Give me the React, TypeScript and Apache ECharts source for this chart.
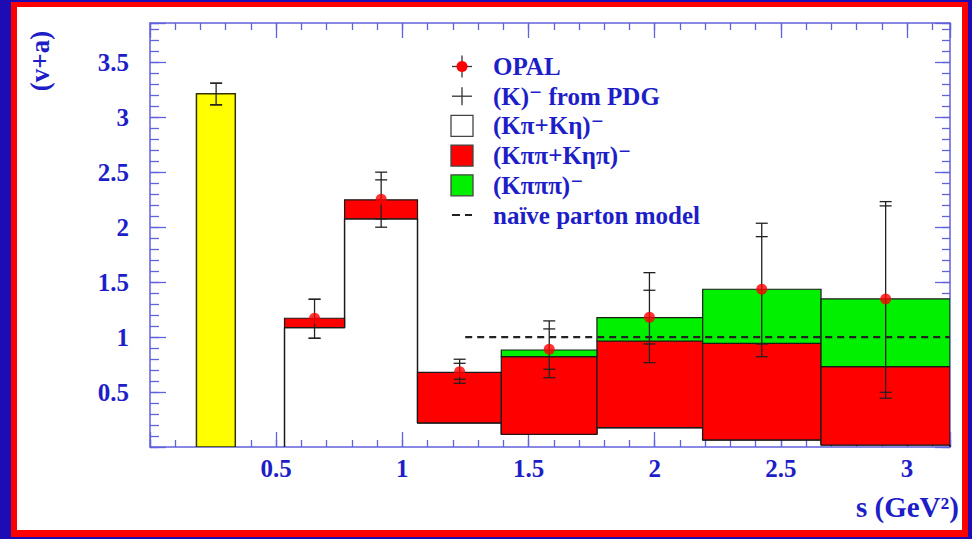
import React, { useEffect, useRef } from 'react';
import * as echarts from 'echarts';

// ---------- data ----------
// histogram bin edges (s in GeV^2)
const BIN_EDGES = [0.533, 0.771, 1.06, 1.392, 1.771, 2.19, 2.659, 3.17];
// stacked contributions per bin
const K_PI_K_ETA = [1.087, 2.077, 0.219, 0.116, 0.176, 0.064, 0.018]; // (Kπ+Kη)⁻  white
const K_PIPI_K_ETAPI = [0.085, 0.173, 0.461, 0.706, 0.789, 0.88, 0.713]; // (Kππ+Kηπ)⁻ red
const K_PIPIPI = [0, 0, 0, 0.061, 0.213, 0.492, 0.617]; // (Kπππ)⁻ green

// OPAL points
const OPAL_S = [0.652, 0.916, 1.227, 1.582, 1.979, 2.424, 2.915];
const OPAL_VALUE = [1.172, 2.256, 0.686, 0.89, 1.181, 1.436, 1.348];
const OPAL_TOT_LO = [0.99, 2.001, 0.58, 0.631, 0.768, 0.822, 0.444];
const OPAL_STAT_LO = [0.99, 2.077, 0.617, 0.708, 0.938, 0.938, 0.498];
const OPAL_STAT_HI = [1.345, 2.432, 0.762, 1.075, 1.427, 1.915, 2.195];
const OPAL_TOT_HI = [1.345, 2.502, 0.799, 1.148, 1.587, 2.037, 2.234];

// (K)⁻ from PDG
const PDG_K_BIN = [0.184, 0.338];
const PDG_K_S = [0.262];
const PDG_K_VALUE = [3.215];
const PDG_K_LO = [3.115];
const PDG_K_HI = [3.312];

// naive parton model
const NAIVE_S = [1.249, 3.17];
const NAIVE_VALUE = [1, 1];

// axes
const X_RANGE = [0, 3.17];
const Y_RANGE = [0, 3.86];
const MAJOR_STEP = 0.5;
const MINOR_STEP = 0.1;

const LEGEND_LABELS = [
  'OPAL',
  '(K)⁻ from PDG',
  '(Kπ+Kη)⁻',
  '(Kππ+Kηπ)⁻',
  '(Kπππ)⁻',
  'naïve parton model',
];

// ---------- styles ----------
const FONT = '"Liberation Serif", "Times New Roman", "DejaVu Serif", serif';
const TEXT_BLUE = '#1e1ec8';
const AXIS_BLUE = '#6262dc';
const INK = '#1a1a1a';

const majorLabel = (v: number) => {
  const k = v / MAJOR_STEP;
  return v > 1e-9 && Math.abs(k - Math.round(k)) < 1e-6 ? String(+v.toFixed(1)) : '';
};

function makeAxis(
  kind: 'x' | 'y',
  position: string,
  interval: number,
  tickLen: number,
  showLabel: boolean,
  showLine: boolean,
) {
  const range = kind === 'x' ? X_RANGE : Y_RANGE;
  return {
    type: 'value',
    position,
    min: range[0],
    max: range[1],
    interval,
    axisLine: { show: showLine, onZero: false, lineStyle: { color: AXIS_BLUE, width: 1.5 } },
    axisTick: { show: true, inside: true, length: tickLen, lineStyle: { color: AXIS_BLUE, width: 1.3 } },
    splitLine: { show: false },
    minorTick: { show: false },
    axisLabel: showLabel
      ? {
          show: true,
          formatter: majorLabel,
          color: TEXT_BLUE,
          fontFamily: FONT,
          fontWeight: 'bold',
          fontSize: 25,
          margin: kind === 'x' ? 9 : 21,
          padding: kind === 'y' ? [6, 0, 0, 0] : 0,
          showMinLabel: true,
          showMaxLabel: true,
        }
      : { show: false },
  };
}

export default function App() {
  const ref = useRef<HTMLDivElement>(null);

  useEffect(() => {
    if (!ref.current) return;
    const chart = echarts.init(ref.current, null, { renderer: 'svg' });

    // white histogram outline
    const outline: number[][] = [[BIN_EDGES[0], 0]];
    K_PI_K_ETA.forEach((h, i) => {
      outline.push([BIN_EDGES[i], h]);
      outline.push([BIN_EDGES[i + 1], h]);
    });
    outline.push([BIN_EDGES[BIN_EDGES.length - 1], 0]);

    const redBoxes: number[][] = [];
    const greenBoxes: number[][] = [];
    K_PI_K_ETA.forEach((w, i) => {
      const r = w + K_PIPI_K_ETAPI[i];
      redBoxes.push([BIN_EDGES[i], BIN_EDGES[i + 1], w, r]);
      if (K_PIPIPI[i] > 0) greenBoxes.push([BIN_EDGES[i], BIN_EDGES[i + 1], r, r + K_PIPIPI[i]]);
    });
    const yellowBoxes = [[PDG_K_BIN[0], PDG_K_BIN[1], 0, PDG_K_VALUE[0]]];

    const errData: number[][] = OPAL_S.map((s, i) => [
      s,
      OPAL_TOT_LO[i],
      OPAL_STAT_LO[i],
      OPAL_STAT_HI[i],
      OPAL_TOT_HI[i],
    ]);
    errData.push([PDG_K_S[0], PDG_K_LO[0], PDG_K_LO[0], PDG_K_HI[0], PDG_K_HI[0]]);

    const boxSeries = (data: number[][], fill: string, stroke: string, lw: number, z: number) => ({
      type: 'custom',
      data,
      z,
      clip: true,
      encode: { x: [0, 1], y: [2, 3] },
      renderItem: (_p: any, api: any) => {
        const a = api.coord([api.value(0), api.value(3)]);
        const b = api.coord([api.value(1), api.value(2)]);
        return {
          type: 'rect',
          shape: { x: a[0], y: a[1], width: b[0] - a[0], height: b[1] - a[1] },
          style: { fill, stroke, lineWidth: lw },
        };
      },
    });

    const option: any = {
      animation: false,
      grid: { left: 133, right: 12, top: 16, bottom: 83, containLabel: false },
      xAxis: [
        makeAxis('x', 'bottom', MAJOR_STEP, 15, true, true),
        makeAxis('x', 'bottom', MINOR_STEP, 7, false, false),
        makeAxis('x', 'top', MAJOR_STEP, 15, false, true),
        makeAxis('x', 'top', MINOR_STEP, 7, false, false),
      ],
      yAxis: [
        makeAxis('y', 'left', MAJOR_STEP, 16, true, true),
        makeAxis('y', 'left', MINOR_STEP, 9, false, false),
        makeAxis('y', 'right', MAJOR_STEP, 15, false, true),
        makeAxis('y', 'right', MINOR_STEP, 8, false, false),
      ],
      series: [
        {
          type: 'line',
          data: outline,
          symbol: 'none',
          z: 2,
          lineStyle: { color: INK, width: 1.5 },
        },
        boxSeries(yellowBoxes, '#ffff00', '#333300', 1.5, 3),
        boxSeries(redBoxes, '#ff0000', INK, 1.2, 4),
        boxSeries(greenBoxes, '#00f000', INK, 1.2, 5),
        {
          type: 'line',
          data: NAIVE_S.map((s, i) => [s, NAIVE_VALUE[i]]),
          symbol: 'none',
          z: 6,
          lineStyle: { color: '#222222', width: 2.2, type: [7, 5] },
        },
        {
          type: 'custom',
          data: errData,
          z: 7,
          clip: true,
          encode: { x: 0, y: [1, 4] },
          renderItem: (_p: any, api: any) => {
            const x = api.value(0);
            const vals = [api.value(1), api.value(2), api.value(3), api.value(4)];
            const lo = api.coord([x, vals[0]]);
            const hi = api.coord([x, vals[3]]);
            const st = { stroke: '#222222', lineWidth: 1.3 };
            const children: any[] = [
              { type: 'line', shape: { x1: lo[0], y1: lo[1], x2: hi[0], y2: hi[1] }, style: st },
            ];
            vals.forEach((v) => {
              const p = api.coord([x, v]);
              children.push({
                type: 'line',
                shape: { x1: p[0] - 6, y1: p[1], x2: p[0] + 6, y2: p[1] },
                style: st,
              });
            });
            return { type: 'group', children };
          },
        },
        {
          type: 'scatter',
          data: OPAL_S.map((s, i) => [s, OPAL_VALUE[i]]),
          symbol: 'circle',
          symbolSize: 11,
          z: 8,
          itemStyle: { color: '#ff0000' },
        },
      ],
      graphic: [] as any[],
    };

    // legend
    const LX = 445; // marker centre
    const TX = 476; // text start
    const rowY = (i: number) => 59.5 + i * 29.7;
    const g: any[] = [];
    // OPAL marker
    g.push({ type: 'line', shape: { x1: LX, y1: rowY(0) - 11, x2: LX, y2: rowY(0) + 11 }, style: { stroke: '#333', lineWidth: 1.3 }, z: 100 });
    g.push({ type: 'line', shape: { x1: LX - 10, y1: rowY(0), x2: LX + 10, y2: rowY(0) }, style: { stroke: '#333', lineWidth: 1.3 }, z: 100 });
    g.push({ type: 'circle', shape: { cx: LX, cy: rowY(0), r: 5.5 }, style: { fill: '#ff0000' }, z: 101 });
    // PDG marker
    g.push({ type: 'line', shape: { x1: LX, y1: rowY(1) - 9, x2: LX, y2: rowY(1) + 9 }, style: { stroke: '#333', lineWidth: 1.3 }, z: 100 });
    g.push({ type: 'line', shape: { x1: LX - 10, y1: rowY(1), x2: LX + 10, y2: rowY(1) }, style: { stroke: '#333', lineWidth: 1.3 }, z: 100 });
    // boxes
    const boxFills = ['#ffffff', '#ff0000', '#00f000'];
    boxFills.forEach((f, k) => {
      g.push({
        type: 'rect',
        shape: { x: LX - 11, y: rowY(2 + k) - 10.5, width: 22, height: 21 },
        style: { fill: f, stroke: '#444', lineWidth: 1.3 },
        z: 100,
      });
    });
    // dashes
    g.push({ type: 'line', shape: { x1: LX - 10, y1: rowY(5), x2: LX - 2, y2: rowY(5) }, style: { stroke: '#222', lineWidth: 2 }, z: 100 });
    g.push({ type: 'line', shape: { x1: LX + 3, y1: rowY(5), x2: LX + 10, y2: rowY(5) }, style: { stroke: '#222', lineWidth: 2 }, z: 100 });
    LEGEND_LABELS.forEach((t, i) => {
      g.push({
        type: 'text',
        x: TX,
        y: rowY(i),
        z: 100,
        style: {
          text: t,
          fill: TEXT_BLUE,
          font: `bold 25px ${FONT}`,
          textAlign: 'left',
          textVerticalAlign: 'middle',
          verticalAlign: 'middle',
        },
      });
    });
    // axis titles
    g.push({
      type: 'text',
      x: 23,
      y: 54,
      rotation: Math.PI / 2,
      z: 100,
      style: {
        text: '(v+a)',
        fill: TEXT_BLUE,
        font: `bold 27px ${FONT}`,
        textAlign: 'center',
        textVerticalAlign: 'middle',
        verticalAlign: 'middle',
      },
    });
    g.push({
      type: 'text',
      x: 839,
      y: 500,
      z: 100,
      style: {
        text: 's (GeV²)',
        fill: TEXT_BLUE,
        font: `bold 29px ${FONT}`,
        textAlign: 'left',
        textVerticalAlign: 'middle',
        verticalAlign: 'middle',
      },
    });
    option.graphic = g;

    chart.setOption(option);
    return () => chart.dispose();
  }, []);

  return (
    <div style={{ position: 'fixed', left: 0, top: 0, width: 972, height: 539, background: '#1d0cb3' }}>
      <div style={{ position: 'absolute', left: 11, top: 2, width: 957, height: 535, background: '#ff0000' }} />
      <div
        ref={ref}
        style={{ position: 'absolute', left: 17, top: 7, width: 945, height: 523, background: '#ffffff', overflow: 'hidden' }}
      />
    </div>
  );
}
